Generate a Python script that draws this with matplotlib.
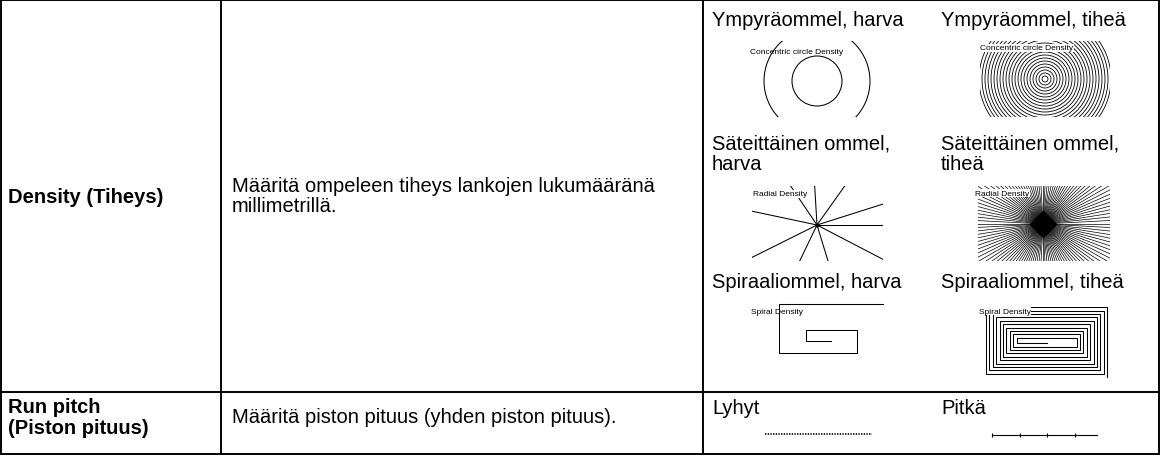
import matplotlib
matplotlib.use("Agg")
import matplotlib.pyplot as plt
from matplotlib.patches import Circle
import numpy as np

plt.rcParams['font.family'] = ['Liberation Sans', 'DejaVu Sans']

# ---------------- data ----------------
row_headers = [["Density (Tiheys)"], ["Run pitch", "(Piston pituus)"]]
row_descriptions = [["Määritä ompeleen tiheys lankojen lukumääränä", "millimetrillä."],
                    ["Määritä piston pituus (yhden piston pituus)."]]
example_titles = [
    [["Ympyräommel, harva"], ["Ympyräommel, tiheä"]],
    [["Säteittäinen ommel,", "harva"], ["Säteittäinen ommel,", "tiheä"]],
    [["Spiraaliommel, harva"], ["Spiraaliommel, tiheä"]],
    [["Lyhyt"], ["Pitkä"]],
]
thumb_labels = ["Concentric circle Density", "Radial Density", "Spiral Density"]

# sparse concentric circle radii (px)
sparse_circle_radii = [25, 53]
# dense concentric circle radii (px)
dense_circle_radii = [3, 6, 9, 12, 15, 18, 21, 24, 27, 30, 33, 36, 39, 42, 45,
                      48, 51, 54, 57, 60, 63, 66]
# sparse radial ray angles (degrees)
sparse_ray_angles = [93.4, 54.6, 17.6, 0.0, -27.5, -73.0, -115.7, -153.5, 168.0, 124.0]
# dense radial ray count
dense_ray_count = 120
# sparse spiral vertices (offsets in px from thumbnail top-left)
sparse_spiral_x = [104, 0, 0, 78, 78, 27, 27, 52]
sparse_spiral_y = [0, 0, 49, 49, 26, 26, 37, 37]
# dense spiral: inner half-size and step (px), number of turns
dense_spiral_inner = (30, 2.7)
dense_spiral_step = 3.4
dense_spiral_turns = 10
# run pitch examples: tick positions along the stitch line (px)
long_pitch_ticks = [0, 27.5, 55, 82.5]
long_pitch_length = 105
short_pitch_length = 107

# ---------------- figure ----------------
W, H = 1161, 456
fig = plt.figure(figsize=(W / 100, H / 100), dpi=100)
ax = fig.add_axes([0, 0, 1, 1])
ax.set_xlim(0, W)
ax.set_ylim(H, 0)
ax.axis('off')

# table grid
left, right, top, bottom = 1, 1159, 1, 455
col1, col2, rowsep = 221, 703, 393
lw = 1.4
ax.plot([left, right, right, left, left], [top, top, bottom, bottom, top], color='black', lw=lw,
        solid_joinstyle='miter')
ax.plot([col1, col1], [top, bottom], color='black', lw=lw)
ax.plot([col2, col2], [top, bottom], color='black', lw=lw)
ax.plot([left, right], [rowsep, rowsep], color='black', lw=lw)

FS = 14.5
# headers
ax.text(8, 198, row_headers[0][0], fontsize=FS, fontweight='bold', va='center', ha='left')
ax.text(8, 408, row_headers[1][0], fontsize=FS, fontweight='bold', va='center', ha='left')
ax.text(8, 429, row_headers[1][1], fontsize=FS, fontweight='bold', va='center', ha='left')
# descriptions
ax.text(232, 187, row_descriptions[0][0], fontsize=FS, va='center', ha='left')
ax.text(232, 207, row_descriptions[0][1], fontsize=FS, va='center', ha='left')
ax.text(232, 418, row_descriptions[1][0], fontsize=FS, va='center', ha='left')

# example titles
title_x = [712, 941]
title_y = [[20], [144, 165], [283], [409]]
for r, pair in enumerate(example_titles):
    for c, lines in enumerate(pair):
        for k, line in enumerate(lines):
            ax.text(title_x[c], title_y[r][k], line, fontsize=FS, va='center', ha='left')


def thumb(x0, y0, x1, y1):
    a = fig.add_axes([x0 / W, 1 - y1 / H, (x1 - x0) / W, (y1 - y0) / H])
    a.set_xlim(0, x1 - x0)
    a.set_ylim(y1 - y0, 0)
    a.axis('off')
    return a

LFS = 6.0
LW = 0.75

# sparse concentric
a = thumb(752, 42, 883, 118)
for r in sparse_circle_radii:
    a.add_patch(Circle((65, 40), r, fill=False, lw=LW, color='black'))
a.text(45, 10, thumb_labels[0], fontsize=LFS, ha='center', va='center')

# dense concentric
a = thumb(980, 42, 1110, 118)
for r in dense_circle_radii:
    a.add_patch(Circle((65, 38), r, fill=False, lw=0.6, color='black'))
a.text(47, 7, thumb_labels[0], fontsize=LFS, ha='center', va='center',
       bbox=dict(facecolor='white', edgecolor='none', pad=0.3))
a.plot([0, 130], [75.5, 75.5], color='#d0d0d0', lw=0.8)

# sparse radial
a = thumb(752, 187, 883, 262)
cx, cy = 65, 39
for ang in sparse_ray_angles:
    t = np.deg2rad(ang)
    a.plot([cx, cx + 300 * np.cos(t)], [cy, cy - 300 * np.sin(t)], color='black', lw=LW)
a.plot([cx], [cy], 'o', color='black', ms=2)
a.text(28, 8, thumb_labels[1], fontsize=LFS, ha='center', va='center',
       bbox=dict(facecolor='white', edgecolor='none', pad=0.3))

# dense radial
a = thumb(978, 187, 1110, 262)
cx, cy = 65, 38
for t in np.linspace(0, 2 * np.pi, dense_ray_count, endpoint=False):
    a.plot([cx, cx + 300 * np.cos(t)], [cy, cy - 300 * np.sin(t)], color='black', lw=0.5)
a.plot([cx], [cy], 'D', color='black', ms=13)
a.text(24, 7, thumb_labels[1], fontsize=LFS, ha='center', va='center',
       bbox=dict(facecolor='white', edgecolor='none', pad=0.3))

# sparse spiral
a = thumb(745, 300, 890, 360)
ox, oy = 34, 5
a.plot([ox + v for v in sparse_spiral_x], [oy + v for v in sparse_spiral_y], color='black', lw=LW)
a.text(32, 12, thumb_labels[2], fontsize=LFS, ha='center', va='center')

# dense spiral
a = thumb(980, 302, 1114, 382)
cx, cy = 66.5, 39.5
hx, hy = dense_spiral_inner
s = dense_spiral_step
x0, x1, y0, y1 = cx - hx, cx + hx, cy - hy, cy + hy
pts = [(cx, y1)]
for k in range(dense_spiral_turns):
    pts += [(x0, y1), (x0, y0), (x1, y0), (x1, y1 + s)]
    x0 -= s; y0 -= s; x1 += s; y1 += s
px, py = zip(*pts)
a.plot(px, py, color='black', lw=0.75, solid_joinstyle='miter')
a.text(25, 10, thumb_labels[2], fontsize=LFS, ha='center', va='center',
       bbox=dict(facecolor='white', edgecolor='none', pad=0.3))

# run pitch: short
ax.plot([765, 765 + short_pitch_length], [435, 435], color='black', lw=1.2, linestyle=(0, (0.8, 0.8)))
# run pitch: long
ax.plot([992, 992 + long_pitch_length], [436, 436], color='black', lw=0.8)
ax.plot([992 + t for t in long_pitch_ticks], [436] * len(long_pitch_ticks), '|', color='black',
        ms=3, mew=0.8)

fig.savefig('out.png', dpi=100)
